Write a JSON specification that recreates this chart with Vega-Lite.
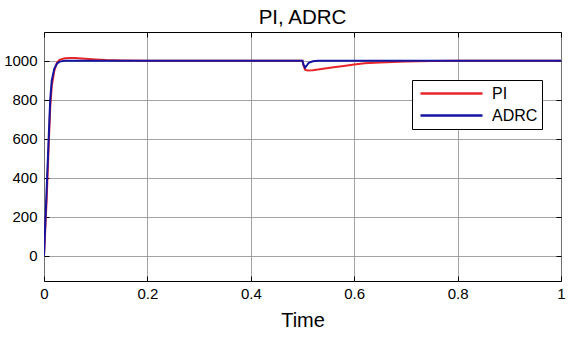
{
  "$schema": "https://vega.github.io/schema/vega-lite/v6.json",
  "width": 517,
  "height": 249,
  "autosize": {"type": "none"},
  "padding": {"left": 44, "top": 32, "right": 23, "bottom": 62},
  "background": "white",
  "config": {
    "font": "Liberation Sans",
    "view": {"stroke": "black", "strokeWidth": 1},
    "axis": {"labelFont": "Liberation Sans", "titleFont": "Liberation Sans", "labelColor": "black", "titleColor": "black", "domain": false, "gridColor": "#8c8c8c", "gridWidth": 0.8, "gridOpacity": 1, "tickColor": "black", "tickSize": -5, "labelFontSize": 15, "titleFontSize": 20, "titleFontWeight": "normal"},
    "legend": {"labelFont": "Liberation Sans"}
  },
  "title": {"text": "PI, ADRC", "fontSize": 20.5, "fontWeight": "normal", "font": "Liberation Sans", "color": "black", "offset": 3, "frame": "group", "anchor": "middle"},
  "data": {"values": [
    {"t": 0, "v": 0, "s": "PI"}, {"t": 0.005, "v": 280, "s": "PI"}, {"t": 0.009, "v": 560, "s": "PI"}, {"t": 0.012, "v": 760, "s": "PI"}, {"t": 0.015, "v": 870, "s": "PI"}, {"t": 0.02, "v": 950, "s": "PI"}, {"t": 0.025, "v": 990, "s": "PI"}, {"t": 0.03, "v": 1005, "s": "PI"}, {"t": 0.04, "v": 1013, "s": "PI"}, {"t": 0.05, "v": 1015, "s": "PI"}, {"t": 0.06, "v": 1014, "s": "PI"}, {"t": 0.08, "v": 1011, "s": "PI"}, {"t": 0.1, "v": 1007, "s": "PI"}, {"t": 0.12, "v": 1004, "s": "PI"}, {"t": 0.15, "v": 1002, "s": "PI"}, {"t": 0.2, "v": 1000, "s": "PI"}, {"t": 0.5, "v": 1000, "s": "PI"}, {"t": 0.502, "v": 975, "s": "PI"}, {"t": 0.505, "v": 955, "s": "PI"}, {"t": 0.51, "v": 950, "s": "PI"}, {"t": 0.52, "v": 952, "s": "PI"}, {"t": 0.54, "v": 959, "s": "PI"}, {"t": 0.56, "v": 967, "s": "PI"}, {"t": 0.58, "v": 974, "s": "PI"}, {"t": 0.6, "v": 981, "s": "PI"}, {"t": 0.62, "v": 987, "s": "PI"}, {"t": 0.65, "v": 992, "s": "PI"}, {"t": 0.7, "v": 997, "s": "PI"}, {"t": 0.75, "v": 999, "s": "PI"}, {"t": 0.8, "v": 1000, "s": "PI"}, {"t": 1, "v": 1000, "s": "PI"},
    {"t": 0, "v": 0, "s": "ADRC"}, {"t": 0.005, "v": 330, "s": "ADRC"}, {"t": 0.009, "v": 600, "s": "ADRC"}, {"t": 0.012, "v": 800, "s": "ADRC"}, {"t": 0.015, "v": 900, "s": "ADRC"}, {"t": 0.02, "v": 960, "s": "ADRC"}, {"t": 0.025, "v": 985, "s": "ADRC"}, {"t": 0.03, "v": 996, "s": "ADRC"}, {"t": 0.04, "v": 1000, "s": "ADRC"}, {"t": 0.5, "v": 1000, "s": "ADRC"}, {"t": 0.502, "v": 980, "s": "ADRC"}, {"t": 0.505, "v": 965, "s": "ADRC"}, {"t": 0.508, "v": 975, "s": "ADRC"}, {"t": 0.512, "v": 990, "s": "ADRC"}, {"t": 0.52, "v": 998, "s": "ADRC"}, {"t": 0.53, "v": 1000, "s": "ADRC"}, {"t": 1, "v": 1000, "s": "ADRC"}
  ]},
  "resolve": {"axis": {"x": "independent", "y": "independent"}},
  "layer": [
    {
      "mark": {"type": "line", "strokeWidth": 2, "clip": true},
      "encoding": {
        "x": {"field": "t", "type": "quantitative", "scale": {"domain": [0, 1], "nice": false, "zero": false}, "axis": {"title": "Time", "values": [0, 0.2, 0.4, 0.6, 0.8, 1], "format": "~g", "labelPadding": 10, "titlePadding": 9, "labelFlush": false}},
        "y": {"field": "v", "type": "quantitative", "scale": {"domain": [-130, 1148], "nice": false, "zero": false}, "axis": {"title": null, "values": [0, 200, 400, 600, 800, 1000], "format": "d", "labelPadding": 12}},
        "color": {"field": "s", "type": "nominal", "scale": {"domain": ["PI", "ADRC"], "range": ["#e8262a", "#1414a0"]}, "legend": {"title": null, "orient": "none", "legendX": 368, "legendY": 48, "symbolType": "stroke", "symbolSize": 3844, "symbolStrokeWidth": 2.5, "symbolOffset": 2.5, "clipHeight": 18, "labelFontSize": 16, "labelColor": "black", "labelOffset": 8, "strokeColor": "black", "fillColor": "white", "padding": 4.5, "rowPadding": 4}},
        "order": {"field": "t", "type": "quantitative"}
      }
    },
    {
      "mark": {"type": "line", "opacity": 0},
      "encoding": {
        "x": {"field": "t", "type": "quantitative", "axis": {"orient": "top", "title": null, "labels": false, "grid": false, "values": [0, 0.2, 0.4, 0.6, 0.8, 1]}},
        "y": {"field": "v", "type": "quantitative", "axis": {"orient": "right", "title": null, "labels": false, "grid": false, "values": [0, 200, 400, 600, 800, 1000]}}
      }
    }
  ]
}
